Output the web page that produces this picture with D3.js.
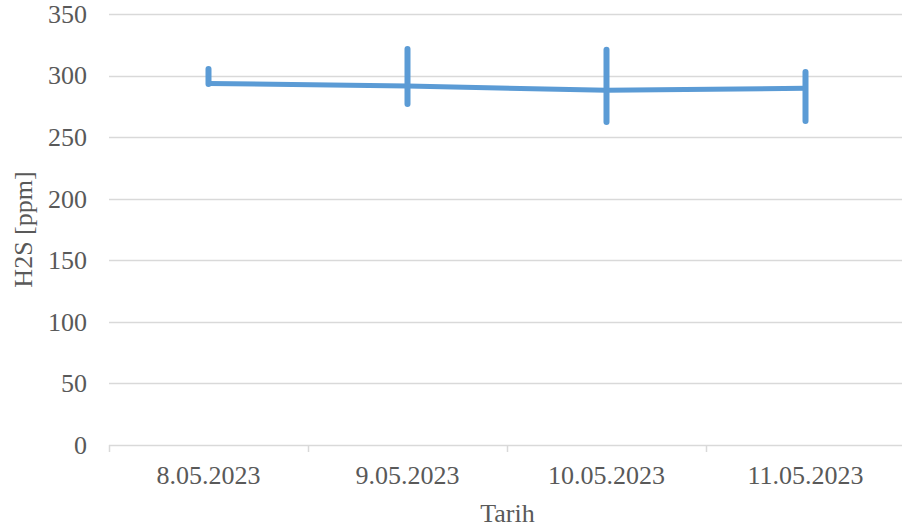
<!DOCTYPE html>
<html>
<head>
<meta charset="utf-8">
<script src="https://cdn.jsdelivr.net/npm/d3@7/dist/d3.min.js"></script>
<style>
  html, body { margin: 0; padding: 0; background: #ffffff; }
  svg { display: block; }
  text { font-family: "Liberation Serif", "Times New Roman", serif; fill: #595959; }
</style>
</head>
<body>
<svg id="chart" width="902" height="531"></svg>
<script>
// Daily H2S readings with their min/max spread
const dates = ["8.05.2023", "9.05.2023", "10.05.2023", "11.05.2023"];
const h2s = [293.6, 291.5, 288.0, 289.7];
const h2sHigh = [305.3, 321.6, 321.0, 302.9];
const h2sLow = [293.2, 276.9, 262.3, 263.1];
const yTicks = [0, 50, 100, 150, 200, 250, 300, 350];

const svg = d3.select("#chart");
const margin = { left: 109, right: -3, top: 14, bottom: 86 };
const width = 902, height = 531;

const x = d3.scaleBand()
  .domain(dates)
  .range([margin.left, width - margin.right])
  .paddingInner(0).paddingOuter(0);

const y = d3.scaleLinear()
  .domain([0, 350])
  .range([height - margin.bottom, margin.top]);

// Horizontal gridlines
svg.append("g")
  .selectAll("line")
  .data(yTicks.filter(d => d > 0))
  .join("line")
  .attr("x1", margin.left)
  .attr("x2", width)
  .attr("y1", d => Math.round(y(d)) + 0.5)
  .attr("y2", d => Math.round(y(d)) + 0.5)
  .attr("stroke", "#d9d9d9")
  .attr("stroke-width", 1.5);

// Y axis labels
const yAxis = svg.append("g")
  .attr("transform", `translate(${margin.left},0)`)
  .call(d3.axisLeft(y).tickValues(yTicks).tickSize(0).tickPadding(22));
yAxis.select(".domain").remove();
yAxis.selectAll("text")
  .style("font-size", "26px")
  .style("font-family", "Liberation Serif, Times New Roman, serif")
  .attr("fill", "#595959");

// X axis with category boundary ticks
const x0 = y(0);
svg.append("line")
  .attr("x1", margin.left).attr("x2", width)
  .attr("y1", Math.round(x0) + 0.5).attr("y2", Math.round(x0) + 0.5)
  .attr("stroke", "#d9d9d9").attr("stroke-width", 1.5);

const bounds = dates.map(d => x(d)).concat([x(dates[dates.length - 1]) + x.bandwidth()]);
svg.append("g")
  .selectAll("line")
  .data(bounds)
  .join("line")
  .attr("x1", d => Math.round(d) + 0.5)
  .attr("x2", d => Math.round(d) + 0.5)
  .attr("y1", x0)
  .attr("y2", x0 + 7)
  .attr("stroke", "#d9d9d9")
  .attr("stroke-width", 1.5);

svg.append("g")
  .selectAll("text")
  .data(dates)
  .join("text")
  .attr("x", d => x(d) + x.bandwidth() / 2)
  .attr("y", x0 + 39)
  .attr("text-anchor", "middle")
  .style("font-size", "26px")
  .text(d => d);

// Series line
const cx = d => x(d) + x.bandwidth() / 2;
const line = d3.line()
  .x((d, i) => cx(dates[i]))
  .y(d => y(d));

svg.append("path")
  .datum(h2s)
  .attr("d", line)
  .attr("fill", "none")
  .attr("stroke", "#5b9bd5")
  .attr("stroke-width", 5);

// Vertical range bars
svg.append("g")
  .selectAll("line")
  .data(dates)
  .join("line")
  .attr("x1", d => cx(d))
  .attr("x2", d => cx(d))
  .attr("y1", (d, i) => y(h2sHigh[i]))
  .attr("y2", (d, i) => y(h2sLow[i]))
  .attr("stroke", "#5b9bd5")
  .attr("stroke-width", 6)
  .attr("stroke-linecap", "round");

// Axis titles
svg.append("text")
  .attr("x", 507.5)
  .attr("y", 522)
  .attr("text-anchor", "middle")
  .style("font-size", "26px")
  .text("Tarih");

svg.append("text")
  .attr("transform", "translate(32,229.5) rotate(-90)")
  .attr("text-anchor", "middle")
  .style("font-size", "26px")
  .text("H2S [ppm]");
</script>
</body>
</html>
